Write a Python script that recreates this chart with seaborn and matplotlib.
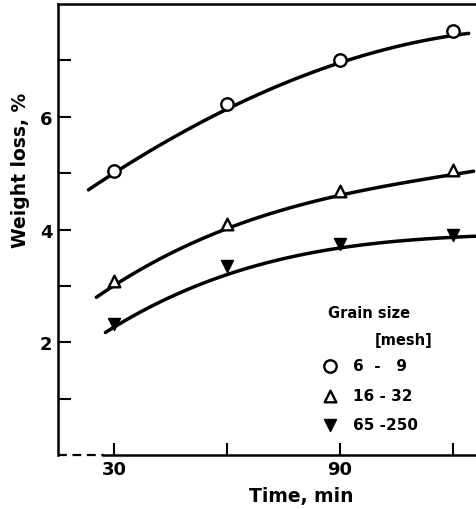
import numpy as np
import pandas as pd
import matplotlib
matplotlib.use("Agg")
import matplotlib.pyplot as plt
import seaborn as sns

# measured points: time in minutes, weight loss in % for three grain sizes
time_min = [30, 60, 90, 120]
coarse = [5.03, 6.23, 7.0, 7.52]     # 6 - 9 mesh
medium = [3.09, 4.1, 4.68, 5.05]     # 16 - 32 mesh
fine = [2.33, 3.35, 3.74, 3.9]       # 65 - 250 mesh

labels = ["6  -   9", "16 - 32", "65 -250"]

# trend lines
coarse_curve_t = [23.1, 39.3, 60, 71.1, 89.7, 100.3, 124.2]
coarse_curve_w = [4.71, 5.37, 6.16, 6.48, 6.93, 7.18, 7.48]
medium_curve_t = [25.2, 30, 39.3, 60, 71.1, 89.7, 105.6, 125.5]
medium_curve_w = [2.79, 3.0, 3.41, 4.02, 4.24, 4.62, 4.82, 5.03]
fine_curve_t = [27.6, 30, 41.9, 60, 71.1, 89.7, 105.6, 126]
fine_curve_w = [2.15, 2.30, 2.70, 3.21, 3.41, 3.67, 3.80, 3.88]

sns.set_theme(style="ticks")
plt.rcParams["font.family"] = ["DejaVu Sans"]
plt.rcParams["font.weight"] = "bold"
plt.rcParams["text.color"] = "black"
plt.rcParams["axes.labelcolor"] = "black"

fig = plt.figure(figsize=(4.77, 5.10), dpi=100)
ax = fig.add_axes([0.1216, 0.106, 0.8784, 0.884])

series = [coarse, medium, fine]
curves = [(coarse_curve_t, coarse_curve_w), (medium_curve_t, medium_curve_w),
          (fine_curve_t, fine_curve_w)]
styles = [
    dict(marker="o", facecolor="white", edgecolor="black", s=80, linewidth=1.7),
    dict(marker="^", facecolor="white", edgecolor="black", s=70, linewidth=1.7),
    dict(marker="v", facecolor="black", edgecolor="black", s=75, linewidth=1.0),
]

for vals, lab, st, (ct, cw) in zip(series, labels, styles, curves):
    # smooth the hand-drawn trend line
    coef = np.polyfit(ct, cw, 3)
    xs = np.linspace(ct[0], ct[-1], 80)
    fit = pd.DataFrame({"t": xs, "w": np.polyval(coef, xs)})
    sns.lineplot(data=fit, x="t", y="w", color="black", linewidth=2.5, ax=ax, zorder=2)
    pts = pd.DataFrame({"t": time_min, "w": vals})
    sns.scatterplot(data=pts, x="t", y="w", ax=ax, zorder=3, label=lab, **st)

ax.set_xlim(15, 126.4)
ax.set_ylim(0, 8)
ax.set_xticks([30, 60, 90, 120])
ax.set_xticklabels(["30", "", "90", ""])
ax.set_yticks([1, 2, 3, 4, 5, 6, 7])
ax.set_yticklabels(["", "2", "", "4", "", "6", ""])
ax.tick_params(direction="in", length=9, width=1.5, labelsize=13, pad=4, colors="black")
for t in ax.get_xticklabels() + ax.get_yticklabels():
    t.set_fontweight("bold")

ax.spines["right"].set_visible(False)
for side in ["left", "top", "bottom"]:
    ax.spines[side].set_linewidth(1.8)
    ax.spines[side].set_color("black")
ax.spines["bottom"].set_bounds(27, 126.4)
ax.axhline(0, xmin=0, xmax=0.11, color="black", linewidth=1.6, linestyle=(0, (4, 2.5)),
           clip_on=False)

ax.set_xlabel("Time, min", fontsize=13.5, fontweight="bold")
ax.xaxis.set_label_coords(0.58, -0.089)
ax.xaxis.label.set_va("center")
ax.set_ylabel("Weight loss, %", fontsize=13.5, fontweight="bold")
ax.yaxis.set_label_coords(-0.09, 0.634)
ax.yaxis.label.set_va("center")

ax.text(0.6455, 0.317, "Grain size", transform=ax.transAxes, fontsize=10.5,
        fontweight="bold", ha="left", va="center")
ax.text(0.894, 0.257, "[mesh]", transform=ax.transAxes, fontsize=10.5,
        fontweight="bold", ha="right", va="center")

leg = ax.legend(loc="upper left", bbox_to_anchor=(0.63, 0.215), frameon=False,
                borderaxespad=0, borderpad=0, handlelength=1.0, handletextpad=1.0,
                labelspacing=0.95, prop={"size": 11, "weight": "bold"})

fig.savefig("out.png", dpi=100)
